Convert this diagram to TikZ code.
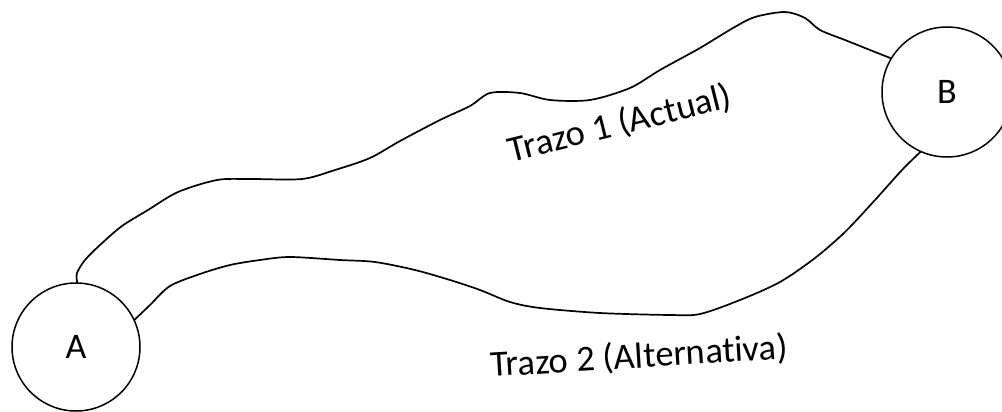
\documentclass[tikz,border=0pt]{standalone}
\usepackage{fontspec}
\setmainfont{Carlito}[RawFeature={-liga;-dlig;-clig;-calt}]
\begin{document}
\begin{tikzpicture}[x=1pt,y=-1pt,
  place/.style={circle,draw,line width=1.5pt,minimum size=128pt,inner sep=0pt,font=\fontsize{36}{40}\selectfont},
  trace/.style={line width=1.7pt,line join=round,line cap=round},
  lbl/.style={font=\fontsize{36.5}{40}\selectfont,inner sep=0pt}]
\clip (0,0) rectangle (1002,412);
\node[place] (A) at (76,347) {A};
\node[place,minimum size=130pt] (B) at (947,92) {B};
\draw[trace] plot[smooth,tension=0.5] coordinates {(A.89) (77,273) (85,260) (100,245) (122,226) (148,210) (178,192) (217,180) (250,179) (302,179) (335,170) (370,158) (400,141) (440,120) (470,106) (490,93) (520,93) (550,100) (590,100) (630,88) (660,70) (700,48) (733,28) (755,17) (785,12) (805,18) (820,30) (845,40) (875,52) (B.149)};
\draw[trace] plot[smooth,tension=0.5] coordinates {(A.25) (150,305) (170,286) (200,274) (230,265) (260,260) (290,257) (340,260) (375,262) (415,270) (450,280) (480,290) (510,302) (540,308) (600,313) (670,315) (700,314) (740,300) (780,282) (815,258) (845,232) (875,200) (902,170) (B.246)};
\node[lbl,rotate=14] (t1) at (620,124) {Trazo 1 (Actual)};
\node[lbl,rotate=3.5] (t2) at (639,357) {Trazo 2 (Alternativa)};
\end{tikzpicture}
\end{document}
